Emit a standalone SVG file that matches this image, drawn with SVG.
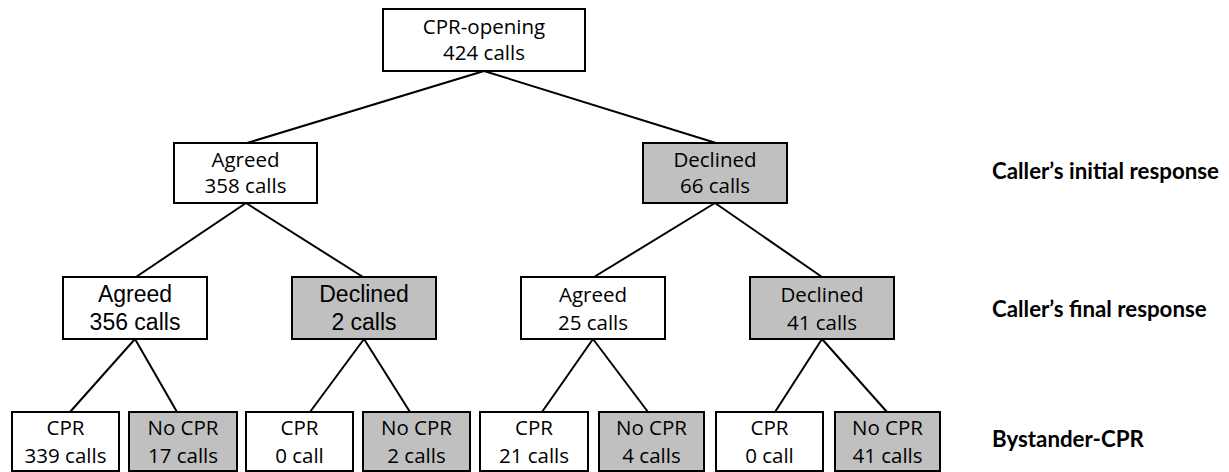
<svg xmlns="http://www.w3.org/2000/svg" width="1229" height="472" viewBox="0 0 1229 472">
<style>
.b{fill:#fff;stroke:#000;stroke-width:2}
.g{fill:#c0c0c0;stroke:#000;stroke-width:2}
.t{font-family:"Open Sans","Liberation Sans",sans-serif;font-size:20.5px;text-anchor:middle;fill:#000}
.a{font-family:"Liberation Sans",Arial,sans-serif;font-size:23px;text-anchor:middle;fill:#000}
.l{font-family:Lato,"Liberation Sans",sans-serif;font-size:22.3px;font-weight:bold;fill:#000}
.c{stroke:#000;stroke-width:2;fill:none}
</style>
<g id="connectors" class="c">
<line x1="484" y1="71" x2="247" y2="143"/>
<line x1="484" y1="71" x2="716" y2="143"/>
<line x1="246" y1="203" x2="136" y2="277"/>
<line x1="246" y1="203" x2="363" y2="277"/>
<line x1="715" y1="203" x2="594" y2="277"/>
<line x1="715" y1="203" x2="822" y2="277"/>
<line x1="135" y1="339" x2="70" y2="412"/>
<line x1="135" y1="339" x2="177" y2="412"/>
<line x1="364" y1="339" x2="310" y2="412"/>
<line x1="364" y1="339" x2="410" y2="412"/>
<line x1="593" y1="339" x2="542" y2="412"/>
<line x1="593" y1="339" x2="648" y2="412"/>
<line x1="822" y1="339" x2="775" y2="412"/>
<line x1="822" y1="339" x2="887" y2="412"/>
</g>
<g id="n_root"><rect class="b" x="383" y="9" width="202" height="62"/><text class="t" x="484" y="34">CPR-opening</text><text class="t" x="484" y="60">424 calls</text></g>
<g id="n_agreed1"><rect class="b" x="174" y="143" width="143" height="60"/><text class="t" x="245.5" y="167">Agreed</text><text class="t" x="245.5" y="193">358 calls</text></g>
<g id="n_declined1"><rect class="g" x="643" y="143" width="144" height="60"/><text class="t" x="715" y="167">Declined</text><text class="t" x="715" y="193">66 calls</text></g>
<g id="n_agreed2a"><rect class="b" x="63" y="277" width="144" height="62"/><text class="a" x="135" y="302">Agreed</text><text class="a" x="135" y="330">356 calls</text></g>
<g id="n_declined2a"><rect class="g" x="292" y="277" width="144" height="62"/><text class="a" x="364" y="302">Declined</text><text class="a" x="364" y="330">2 calls</text></g>
<g id="n_agreed2b"><rect class="b" x="521" y="277" width="144" height="62"/><text class="t" x="593" y="302">Agreed</text><text class="t" x="593" y="330">25 calls</text></g>
<g id="n_declined2b"><rect class="g" x="750" y="277" width="144" height="62"/><text class="t" x="822" y="302">Declined</text><text class="t" x="822" y="330">41 calls</text></g>
<g id="n_l1"><rect class="b" x="12" y="412" width="107" height="59"/><text class="t" x="65.5" y="435">CPR</text><text class="t" x="65.5" y="463">339 calls</text></g>
<g id="n_l2"><rect class="g" x="129" y="412" width="108" height="59"/><text class="t" x="183" y="435">No CPR</text><text class="t" x="183" y="463">17 calls</text></g>
<g id="n_l3"><rect class="b" x="246" y="412" width="107" height="59"/><text class="t" x="299.5" y="435">CPR</text><text class="t" x="299.5" y="463">0 call</text></g>
<g id="n_l4"><rect class="g" x="363" y="412" width="107" height="59"/><text class="t" x="416.5" y="435">No CPR</text><text class="t" x="416.5" y="463">2 calls</text></g>
<g id="n_l5"><rect class="b" x="480" y="412" width="108" height="59"/><text class="t" x="534" y="435">CPR</text><text class="t" x="534" y="463">21 calls</text></g>
<g id="n_l6"><rect class="g" x="599" y="412" width="105" height="59"/><text class="t" x="651.5" y="435">No CPR</text><text class="t" x="651.5" y="463">4 calls</text></g>
<g id="n_l7"><rect class="b" x="716" y="412" width="107" height="59"/><text class="t" x="769.5" y="435">CPR</text><text class="t" x="769.5" y="463">0 call</text></g>
<g id="n_l8"><rect class="g" x="835" y="412" width="105" height="59"/><text class="t" x="887.5" y="435">No CPR</text><text class="t" x="887.5" y="463">41 calls</text></g>
<g id="labels">
<text class="l" x="992" y="179">Caller’s initial response</text>
<text class="l" x="992" y="317">Caller’s final response</text>
<text class="l" x="992" y="447">Bystander-CPR</text>
</g>
</svg>
